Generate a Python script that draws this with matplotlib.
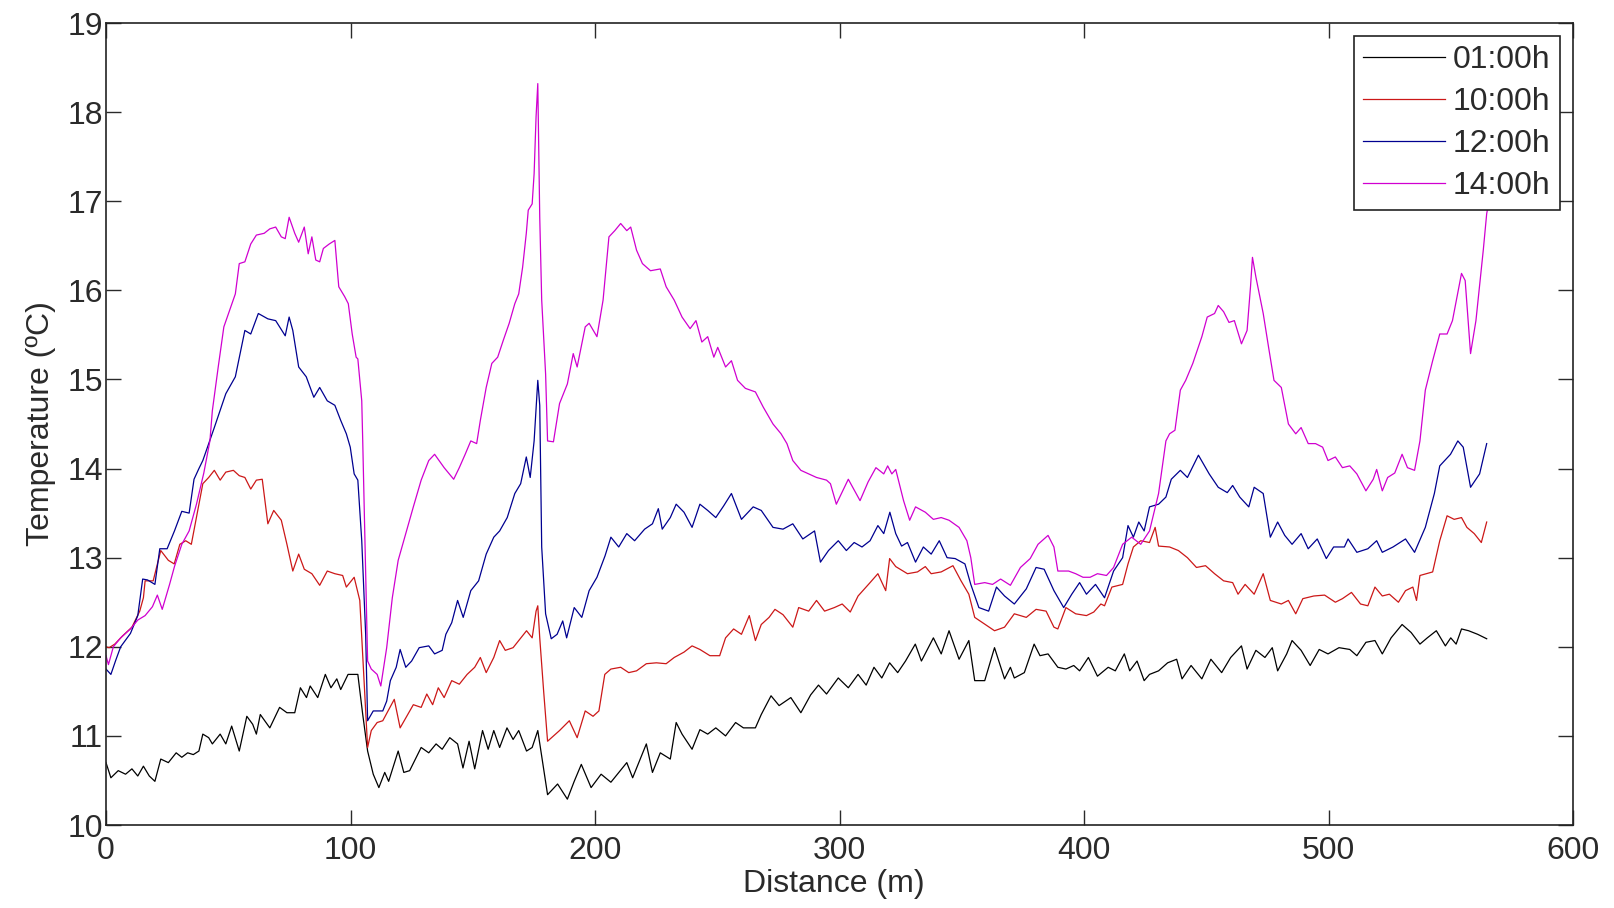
import matplotlib
matplotlib.use("Agg")
import matplotlib.pyplot as plt

# ---------------- data ----------------
dist_01 = [0, 2, 5, 8, 10.6, 13, 15.3, 17.7, 20, 22.4, 25.5, 28.7, 31, 33.4, 35.7, 38, 39.6, 42, 43.5,
           46.7, 49, 51.4, 54.5, 57.6, 60, 61.5, 63.1, 67, 71, 74, 77.2, 79.5, 82, 83.5, 86.6, 89.7, 92,
           94.4, 96, 99, 103, 105, 107, 109.3, 111.6, 114, 115.6, 119.5, 121.8, 124.2, 128.9, 132, 135,
           137.5, 140.6, 143.8, 146, 148.5, 150.8, 154, 156.3, 158.6, 161, 164, 166.5, 168.8, 172, 174.3,
           176.6, 180.6, 184.7, 188.7, 191.5, 194.4, 198.4, 202.5, 206.5, 213, 215.4, 221, 223.5, 226.7,
           230.8, 233.2, 235.6, 239.7, 242.9, 246.1, 249.4, 253.4, 257.5, 260.7, 265.6, 268, 272, 275.3,
           280.1, 284.2, 288.2, 291.4, 294.7, 299.5, 303.6, 307.6, 310.9, 314.1, 317.3, 320.5, 323.8, 327,
           331, 333.5, 338.4, 341.6, 344.8, 348.9, 352.9, 355.3, 359.4, 363.4, 367.5, 369.9, 371.5, 375.6,
           379.6, 382, 385.3, 389.3, 392.6, 395.8, 398.2, 401.8, 405.5, 409.9, 412.8, 416.5, 418.7, 421.7,
           424.6, 426.8, 430.5, 434.2, 437.9, 440.1, 443.8, 448.2, 451.9, 456.3, 460, 464.4, 466.7, 470.3,
           474, 477, 479.2, 482.9, 485.1, 488.8, 492.5, 496.2, 499.8, 504.3, 508.7, 511.6, 515.3, 519, 522,
           525.6, 530.1, 533.8, 537.4, 540.4, 544.1, 547.8, 550, 552.2, 554.4, 557.3, 561, 564.7]
temp_01 = [10.70, 10.53, 10.61, 10.57, 10.63, 10.55, 10.66, 10.55, 10.49, 10.74, 10.70, 10.81, 10.76,
           10.81, 10.79, 10.83, 11.02, 10.98, 10.91, 11.02, 10.91, 11.11, 10.83, 11.22, 11.13, 11.02,
           11.24, 11.09, 11.32, 11.26, 11.26, 11.54, 11.43, 11.56, 11.43, 11.69, 11.54, 11.64, 11.52,
           11.69, 11.69, 11.24, 10.83, 10.57, 10.42, 10.59, 10.49, 10.83, 10.59, 10.61, 10.87, 10.81,
           10.91, 10.85, 10.98, 10.91, 10.64, 10.94, 10.63, 11.06, 10.85, 11.06, 10.87, 11.09, 10.96,
           11.06, 10.83, 10.87, 11.06, 10.34, 10.46, 10.29, 10.49, 10.68, 10.42, 10.57, 10.48, 10.70,
           10.53, 10.91, 10.59, 10.81, 10.74, 11.15, 11.02, 10.85, 11.07, 11.02, 11.09, 11.00, 11.15,
           11.09, 11.09, 11.24, 11.45, 11.34, 11.43, 11.26, 11.46, 11.57, 11.47, 11.65, 11.54, 11.69,
           11.57, 11.77, 11.65, 11.82, 11.71, 11.84, 12.03, 11.84, 12.10, 11.92, 12.18, 11.86, 12.07,
           11.62, 11.62, 11.99, 11.64, 11.77, 11.65, 11.71, 12.03, 11.90, 11.92, 11.77, 11.75, 11.79,
           11.73, 11.88, 11.67, 11.77, 11.73, 11.92, 11.73, 11.84, 11.62, 11.69, 11.73, 11.82, 11.86,
           11.64, 11.79, 11.64, 11.86, 11.71, 11.88, 12.01, 11.75, 11.96, 11.88, 11.99, 11.73, 11.92,
           12.07, 11.96, 11.79, 11.97, 11.92, 11.99, 11.97, 11.90, 12.05, 12.07, 11.92, 12.10, 12.25,
           12.16, 12.03, 12.10, 12.18, 12.01, 12.10, 12.03, 12.20, 12.18, 12.14, 12.09]

dist_10 = [0, 1.3, 3.6, 6.7, 10.6, 13.8, 15.3, 16, 19.3, 22.4, 25.5, 27.9, 30.2, 32.6, 34.9, 36.5, 39.6,
           42, 44.3, 46.7, 49, 52.1, 54.5, 56.8, 59.2, 61.5, 63.9, 66.2, 68.6, 71.7, 74, 76.4, 78.8, 81.1,
           84.2, 87.4, 90.5, 93.6, 96.8, 98.3, 101.5, 103.8, 105.4, 107, 108.5, 110.9, 113.2, 117.9, 120.3,
           123.4, 125.7, 128.9, 131.2, 133.6, 135.9, 138.3, 141.4, 144.5, 147.7, 150.8, 153.1, 155.5,
           158.6, 161, 163.3, 166.5, 168.8, 172, 174.3, 175.9, 176.6, 177.4, 179, 180.6, 185.5, 189.5,
           192.7, 196, 199.2, 201.6, 204, 206.5, 210.5, 213.8, 217, 221, 225.1, 229.1, 232.4, 236.4,
           239.7, 242.9, 247, 251, 253.4, 256.7, 259.9, 263.1, 265.6, 268, 271.2, 273.6, 276.9, 280.9,
           283.3, 287.4, 290.6, 293.9, 297.9, 301.1, 304.4, 307.6, 312.5, 315.7, 318.9, 320.5, 323,
           327.8, 331.9, 335.1, 337.5, 341.6, 346.4, 349.7, 352.9, 355.3, 360.2, 363.4, 367.5, 371.5,
           376.4, 380.4, 384.5, 387.7, 389.3, 392.6, 396.6, 401, 404, 406.9, 408.4, 411.4, 415.8, 418,
           420.2, 423.2, 426.8, 429.1, 430.5, 435, 438.6, 442.3, 446, 449.7, 453.4, 457.1, 460.8, 463,
           465.9, 469.6, 473.3, 476.2, 480.7, 483.6, 486.6, 489.5, 494, 498.4, 502.8, 505.7, 509.4,
           513.1, 516.1, 519, 522, 524.9, 528.6, 531.5, 534.5, 536, 537.4, 542.6, 545.5, 548.5, 551.4,
           554.4, 556.6, 559.6, 562.5, 564.7]
temp_10 = [12.00, 11.99, 12.03, 12.12, 12.22, 12.40, 12.55, 12.74, 12.74, 13.08, 12.97, 12.93, 13.15,
           13.19, 13.15, 13.38, 13.83, 13.90, 13.98, 13.87, 13.96, 13.98, 13.92, 13.90, 13.77, 13.87,
           13.88, 13.38, 13.53, 13.42, 13.15, 12.85, 13.04, 12.87, 12.82, 12.69, 12.85, 12.82, 12.80,
           12.67, 12.78, 12.52, 11.69, 10.87, 11.06, 11.15, 11.17, 11.41, 11.09, 11.24, 11.35, 11.32,
           11.47, 11.35, 11.54, 11.43, 11.62, 11.58, 11.69, 11.77, 11.88, 11.71, 11.88, 12.07, 11.96,
           11.99, 12.07, 12.18, 12.10, 12.40, 12.46, 12.10, 11.50, 10.94, 11.06, 11.17, 10.98, 11.28,
           11.22, 11.28, 11.69, 11.75, 11.77, 11.71, 11.73, 11.81, 11.82, 11.81, 11.88, 11.94, 12.01,
           11.97, 11.90, 11.90, 12.10, 12.20, 12.14, 12.35, 12.07, 12.25, 12.33, 12.42, 12.36, 12.22,
           12.44, 12.40, 12.52, 12.40, 12.44, 12.48, 12.39, 12.57, 12.72, 12.82, 12.63, 12.99, 12.90,
           12.82, 12.84, 12.90, 12.82, 12.84, 12.91, 12.74, 12.59, 12.33, 12.24, 12.18, 12.22, 12.37,
           12.33, 12.42, 12.40, 12.22, 12.20, 12.44, 12.37, 12.35, 12.39, 12.48, 12.46, 12.67, 12.70,
           12.93, 13.12, 13.19, 13.17, 13.34, 13.13, 13.12, 13.08, 13.00, 12.89, 12.91, 12.82, 12.74,
           12.72, 12.59, 12.70, 12.59, 12.82, 12.52, 12.48, 12.52, 12.37, 12.54, 12.57, 12.58, 12.50,
           12.54, 12.61, 12.48, 12.46, 12.67, 12.57, 12.59, 12.50, 12.63, 12.67, 12.52, 12.80, 12.84,
           13.19, 13.47, 13.43, 13.45, 13.34, 13.27, 13.17, 13.40]

dist_12 = [0, 2, 4, 6, 10, 13, 15, 17, 20, 22, 25, 28, 31, 34, 36, 38, 39.6, 44.3, 49, 52.9, 56.8, 59.2,
           62.3, 66.2, 69.4, 73.3, 74.9, 76.4, 78.8, 81.9, 85, 87.4, 90.5, 93.6, 96, 98.3, 99.9, 101.5,
           103, 104.6, 106.2, 107, 109.3, 113.2, 114.8, 116.3, 118.7, 120.3, 122.6, 125, 128.1, 132,
           134.4, 137.5, 139, 141.4, 143.8, 146.1, 149.2, 152.4, 155.5, 158.6, 161, 164.1, 167.2, 169.6,
           171.9, 173.5, 175.1, 176.6, 177.4, 178.2, 179.8, 182.1, 184.5, 186.8, 188.4, 191.5, 194.6,
           197.6, 200.8, 204.1, 206.5, 209.7, 213, 216.2, 220.3, 223.5, 225.9, 227.5, 230.8, 233.2,
           236.4, 239.7, 242.9, 246.1, 249.4, 252.6, 255.8, 259.9, 264.7, 268, 272.8, 276.9, 280.9, 285,
           289.8, 292.2, 295.5, 299.5, 302.8, 306, 309.2, 312.5, 315.7, 318.1, 320.6, 323, 325.4, 327.8,
           331.1, 334.3, 337.5, 340.8, 344, 347.3, 351.3, 353.7, 357, 361, 364.2, 367.5, 371.5, 376.4,
           380.4, 383.7, 387.7, 391.7, 395, 398.2, 401, 404.7, 408.4, 412.1, 415.8, 418, 420.2, 422.4,
           424.6, 426.8, 430.5, 433.5, 435.7, 439.4, 442.3, 446.8, 451.2, 454.9, 458.6, 460.8, 463.7,
           467.4, 469.6, 473.3, 476.2, 479.2, 482.1, 485.1, 488.8, 491.7, 495.4, 499.1, 502.1, 506.5,
           508, 511.6, 516.1, 519.7, 522, 526.4, 531.5, 535.2, 539.6, 543.3, 545.5, 549.9, 552.9, 555.1,
           558.1, 561.8, 564.7]
temp_12 = [11.75, 11.69, 11.85, 12.00, 12.15, 12.35, 12.76, 12.75, 12.70, 13.10, 13.10, 13.30, 13.52,
           13.50, 13.88, 14.00, 14.09, 14.46, 14.84, 15.03, 15.55, 15.51, 15.74, 15.68, 15.66, 15.49,
           15.70, 15.55, 15.14, 15.03, 14.80, 14.91, 14.76, 14.71, 14.54, 14.39, 14.24, 13.94, 13.87,
           13.19, 12.14, 11.17, 11.28, 11.28, 11.39, 11.62, 11.77, 11.97, 11.77, 11.84, 11.99, 12.01,
           11.92, 11.96, 12.14, 12.27, 12.52, 12.33, 12.63, 12.74, 13.04, 13.23, 13.30, 13.45, 13.72,
           13.83, 14.13, 13.90, 14.31, 14.99, 14.71, 13.12, 12.37, 12.09, 12.14, 12.29, 12.10, 12.44,
           12.33, 12.63, 12.78, 13.02, 13.23, 13.12, 13.27, 13.19, 13.32, 13.38, 13.55, 13.32, 13.45,
           13.60, 13.51, 13.34, 13.60, 13.53, 13.45, 13.58, 13.72, 13.43, 13.57, 13.53, 13.34, 13.32,
           13.38, 13.21, 13.30, 12.95, 13.08, 13.19, 13.08, 13.17, 13.12, 13.19, 13.36, 13.27, 13.51,
           13.27, 13.13, 13.17, 12.95, 13.12, 13.04, 13.19, 13.00, 12.99, 12.93, 12.70, 12.44, 12.40,
           12.67, 12.57, 12.48, 12.65, 12.89, 12.87, 12.63, 12.44, 12.59, 12.72, 12.59, 12.70, 12.55,
           12.85, 13.00, 13.36, 13.23, 13.40, 13.30, 13.57, 13.60, 13.68, 13.88, 13.98, 13.90, 14.15,
           13.94, 13.79, 13.73, 13.81, 13.68, 13.57, 13.79, 13.72, 13.23, 13.40, 13.25, 13.15, 13.27,
           13.10, 13.21, 12.99, 13.12, 13.12, 13.21, 13.06, 13.10, 13.19, 13.06, 13.12, 13.21, 13.06,
           13.34, 13.72, 14.03, 14.16, 14.31, 14.24, 13.79, 13.94, 14.28]

dist_14 = [0, 1, 3, 6, 10, 13, 16, 19, 21, 23, 26, 28, 31, 34, 37, 40, 42.5, 43.5, 45.9, 48.2, 50.6,
           52.9, 54.5, 56.8, 59.2, 61.5, 64.7, 67, 69.4, 71.7, 73.3, 74.9, 77.2, 78.8, 81.1, 82.7, 84.2,
           85.8, 87.4, 88.9, 91.3, 93.6, 95.2, 97.6, 99.1, 100.7, 102.3, 103, 104.6, 105, 107, 108.5,
           110.9, 112.4, 114.8, 117.1, 119.5, 122.6, 125.7, 128.9, 132, 134.4, 138.3, 142.2, 144.5,
           146.9, 149.2, 151.6, 153.1, 155.5, 157.8, 160.2, 162.5, 164.9, 167.2, 168.8, 170.4, 171.9,
           172.7, 174.3, 175.1, 175.9, 176.6, 177.4, 178.2, 179.8, 180.6, 183, 185.5, 188.7, 191.1,
           192.7, 196, 197.6, 200.8, 203.3, 205.7, 208.1, 210.5, 213, 214.6, 217, 219.4, 222.7, 226.7,
           229.1, 232.4, 235.6, 238.9, 241.3, 243.7, 246.1, 248.6, 250.2, 253.4, 255.8, 258.3, 261.5,
           265.6, 268.8, 272.8, 276.1, 278.5, 280.9, 284.2, 290.6, 294.7, 296.3, 298.7, 303.6, 308.4,
           311.7, 314.9, 318.1, 319.7, 321.4, 323, 326.2, 328.7, 331.1, 335.1, 338.4, 341.6, 344.8,
           348.9, 352.1, 353.7, 355.3, 359.4, 362.6, 365.9, 369.9, 374, 378, 381.2, 385.3, 387.7, 389.3,
           393.7, 396.6, 399.6, 402.5, 405.5, 409.2, 412.1, 415.8, 419.5, 423.2, 426.8, 430.5, 433.5,
           435, 437.2, 439.4, 441.6, 444.5, 448.2, 450.4, 453.4, 454.9, 457.1, 459.3, 461.5, 464.4,
           466.7, 468.1, 468.9, 470.3, 473.3, 475.5, 477.7, 480.7, 483.6, 486.6, 488.8, 491.7, 494.7,
           497.6, 499.8, 502.8, 505.7, 508.7, 511.6, 515.3, 518.3, 519.7, 522, 524.2, 527.1, 530.1,
           532.3, 535.2, 537.4, 539.6, 542.6, 545.5, 548.5, 550.7, 554.4, 555.9, 558.1, 560.3, 563.3,
           564.7, 566]
temp_14 = [11.90, 11.80, 12.00, 12.10, 12.20, 12.30, 12.35, 12.45, 12.58, 12.42, 12.70, 12.90, 13.15,
           13.30, 13.60, 13.95, 14.31, 14.65, 15.14, 15.59, 15.78, 15.96, 16.30, 16.32, 16.52, 16.62,
           16.64, 16.69, 16.71, 16.60, 16.58, 16.82, 16.64, 16.54, 16.71, 16.41, 16.60, 16.34, 16.32,
           16.47, 16.52, 16.56, 16.04, 15.93, 15.85, 15.51, 15.25, 15.23, 14.76, 14.31, 11.84, 11.75,
           11.69, 11.56, 11.99, 12.55, 12.97, 13.27, 13.57, 13.87, 14.09, 14.16, 14.01, 13.88, 14.01,
           14.16, 14.31, 14.28, 14.54, 14.91, 15.18, 15.25, 15.44, 15.63, 15.85, 15.96, 16.26, 16.64,
           16.90, 16.97, 17.31, 17.95, 18.32, 16.82, 15.89, 15.06, 14.31, 14.30, 14.73, 14.95, 15.29,
           15.14, 15.59, 15.63, 15.48, 15.89, 16.60, 16.67, 16.75, 16.67, 16.71, 16.45, 16.30, 16.22,
           16.24, 16.04, 15.89, 15.70, 15.57, 15.66, 15.42, 15.48, 15.25, 15.36, 15.14, 15.21, 14.99,
           14.90, 14.86, 14.69, 14.50, 14.39, 14.28, 14.09, 13.98, 13.90, 13.87, 13.83, 13.60, 13.88,
           13.64, 13.85, 14.01, 13.94, 14.03, 13.94, 13.99, 13.64, 13.42, 13.57, 13.51, 13.43, 13.45,
           13.42, 13.34, 13.19, 13.00, 12.70, 12.72, 12.70, 12.76, 12.69, 12.89, 12.99, 13.15, 13.25,
           13.12, 12.85, 12.85, 12.82, 12.78, 12.78, 12.82, 12.80, 12.89, 13.15, 13.23, 13.15, 13.30,
           13.72, 14.31, 14.39, 14.43, 14.88, 14.99, 15.18, 15.48, 15.70, 15.74, 15.83, 15.76, 15.64,
           15.66, 15.40, 15.55, 16.04, 16.37, 16.15, 15.74, 15.36, 14.99, 14.91, 14.50, 14.39, 14.46,
           14.28, 14.28, 14.24, 14.09, 14.13, 14.01, 14.03, 13.94, 13.75, 13.88, 13.99, 13.75, 13.90,
           13.95, 14.16, 14.01, 13.98, 14.31, 14.88, 15.21, 15.51, 15.51, 15.66, 16.19, 16.11, 15.29,
           15.66, 16.45, 16.86, 17.05]

series_labels = ["01:00h", "10:00h", "12:00h", "14:00h"]
x_ticks = [0, 100, 200, 300, 400, 500, 600]
y_ticks = [10, 11, 12, 13, 14, 15, 16, 17, 18, 19]

# ---------------- figure ----------------
plt.rcParams["font.family"] = ["Liberation Sans", "DejaVu Sans"]
fig = plt.figure(figsize=(16.15, 9.08), dpi=100)
ax = fig.add_axes([106 / 1615, 1 - 825 / 908, (1573 - 106) / 1615, (825 - 23) / 908])

colors = ["#000000", "#cc1818", "#000090", "#d000d0"]
lw = 0.9
ax.plot(dist_01, temp_01, color=colors[0], lw=lw, label=series_labels[0])
ax.plot(dist_10, temp_10, color=colors[1], lw=lw, label=series_labels[1])
ax.plot(dist_12, temp_12, color=colors[2], lw=lw, label=series_labels[2])
ax.plot(dist_14, temp_14, color=colors[3], lw=lw, label=series_labels[3])

ax.set_xlim(0, 600)
ax.set_ylim(10, 19)
ax.set_xticks(x_ticks)
ax.set_yticks(y_ticks)
txtc = "#2a2a2a"
ax.tick_params(direction="in", top=True, right=True, length=11, width=1.0,
               labelsize=23, colors=txtc)
ax.tick_params(axis="x", pad=8)
ax.tick_params(axis="y", pad=2)
for s in ax.spines.values():
    s.set_linewidth(1.2)
    s.set_color("#222222")

ax.set_xlabel("Distance (m)", fontsize=23, color=txtc, labelpad=2)
ax.xaxis.set_label_coords(0.496, -0.055)
ax.set_ylabel("Temperature (ºC)", fontsize=23, color=txtc, labelpad=8)

leg = ax.legend(loc="upper right", fontsize=23, frameon=True, fancybox=False,
                edgecolor="#222222", framealpha=1, borderaxespad=0.4,
                handlelength=2.55, handletextpad=0.25, labelspacing=0.37,
                borderpad=0.3)
leg.get_frame().set_linewidth(1.2)
for t in leg.get_texts():
    t.set_color(txtc)

fig.savefig("out.png", dpi=100)
